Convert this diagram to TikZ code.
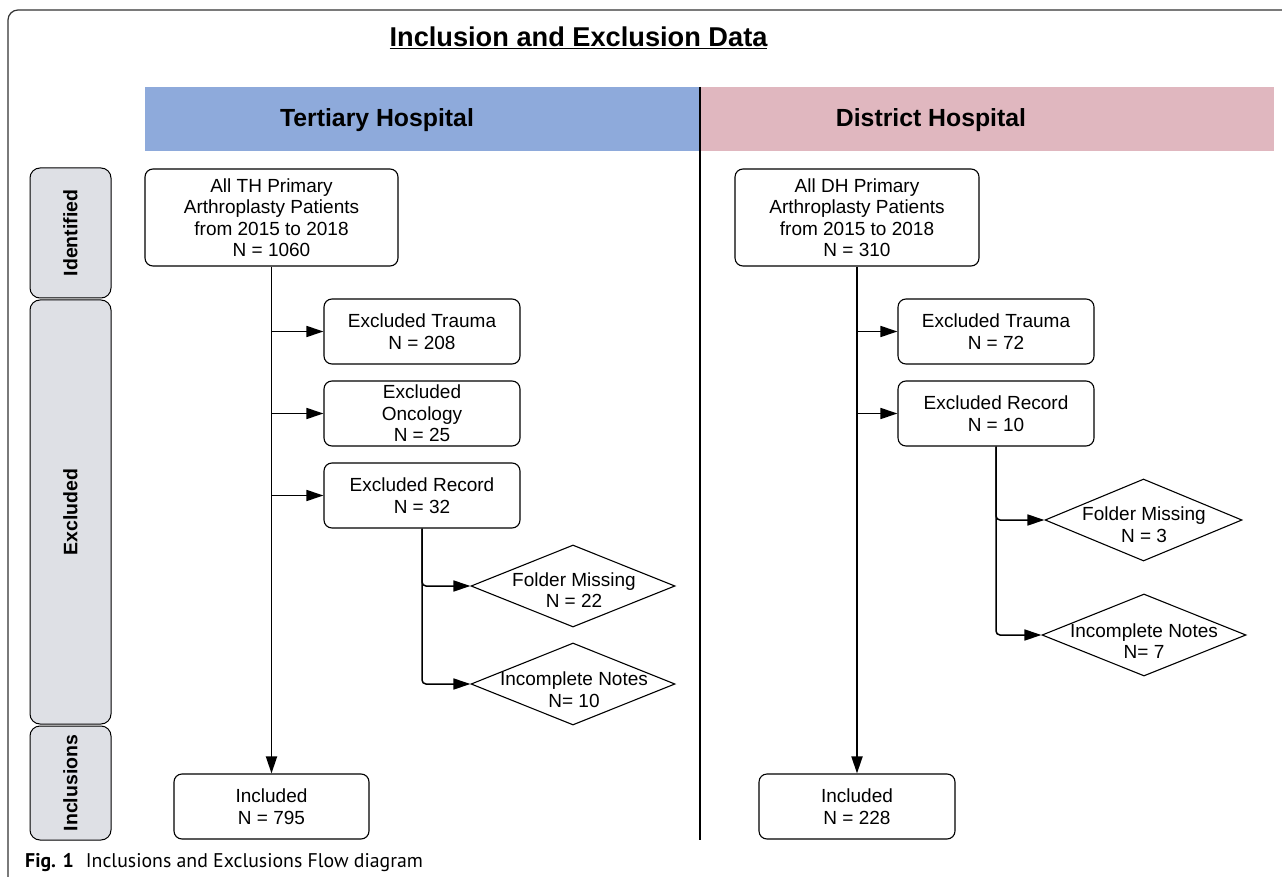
\documentclass[tikz,border=0pt]{standalone}
\usepackage{fontspec}
\setmainfont{Liberation Sans}
\newfontfamily\capfont{PT Sans}
\usetikzlibrary{shapes.geometric,arrows.meta}
\definecolor{thblue}{HTML}{8EAADB}
\definecolor{dhpink}{HTML}{E0B7BF}
\definecolor{sidegray}{HTML}{DEE0E5}
\definecolor{framegray}{HTML}{333333}
\begin{document}
\begin{tikzpicture}[x=1pt,y=-1pt,
  box/.style={draw, rounded corners=8pt, line width=1.1pt, align=center,
    font=\fontsize{19}{21.5}\selectfont, inner sep=0pt},
  dia/.style={draw, diamond, line width=1.1pt, inner sep=0pt, aspect=2.5},
  dtext/.style={align=center, font=\fontsize{19}{21.5}\selectfont, inner sep=0pt},
  lab/.style={draw, fill=sidegray, rounded corners=10pt, line width=1pt, rotate=90,
    minimum height=81pt, inner sep=0pt, font=\bfseries\fontsize{19.5}{22}\selectfont},
  head/.style={font=\bfseries\fontsize{24.8}{28}\selectfont, inner sep=0pt},
  arr/.style={-{Triangle[length=17pt,width=11pt]}, line width=1.5pt},
  trunk/.style={arr, line width=1.9pt}
]
\useasboundingbox (0,0) rectangle (1282,877);
% frame
\draw[framegray, line width=1.2pt, rounded corners=10pt] (8,877) -- (8,10) -- (1282,10);
% title
\node[inner sep=0pt] (title) at (578.5,38) {\bfseries\fontsize{27.2}{31}\selectfont\underline{Inclusion and Exclusion Data}};
% header bars
\fill[thblue] (145,87) rectangle (699,151);
\fill[dhpink] (701,87) rectangle (1274,151);
\node[head] (thhead) at (377,120.5) {Tertiary Hospital};
\node[head] (dhhead) at (931,120.5) {District Hospital};
\draw[line width=1.5pt] (700,87) -- (700,840);
% side labels
\node[lab, minimum width=130pt] (sid) at (70.5,233) {Identified};
\node[lab, minimum width=424pt] (sex) at (70.5,512) {Excluded};
\node[lab, minimum width=114pt] (sin) at (70.5,783) {Inclusions};
% TH nodes
\node[box, minimum width=253pt, minimum height=97pt] (thtop) at (271.5,217.5)
  {All TH Primary\\Arthroplasty Patients\\from 2015 to 2018\\N = 1060};
\node[box, minimum width=196pt, minimum height=65pt] (thtr) at (422,331.5) {Excluded Trauma\\N = 208};
\node[box, minimum width=196pt, minimum height=65pt] (thon) at (422,413.5) {Excluded\\Oncology\\N = 25};
\node[box, minimum width=196pt, minimum height=65pt] (threc) at (422,495.5) {Excluded Record\\N = 32};
\node[dia, minimum width=204pt, minimum height=82pt] (thfm) at (573,586) {};
\node[dtext] (thfmt) at (574,590) {Folder Missing\\N = 22};
\node[dia, minimum width=204pt, minimum height=82pt] (thin) at (573,684) {};
\node[dtext] (thint) at (574,689.5) {Incomplete Notes\\N= 10};
\node[box, minimum width=195pt, minimum height=65pt] (thinc) at (271.5,806.5) {Included\\N = 795};
% DH nodes
\node[box, minimum width=244pt, minimum height=97pt] (dhtop) at (857,217.5)
  {All DH Primary\\Arthroplasty Patients\\from 2015 to 2018\\N = 310};
\node[box, minimum width=196pt, minimum height=65pt] (dhtr) at (996,331.5) {Excluded Trauma\\N = 72};
\node[box, minimum width=196pt, minimum height=65pt] (dhrec) at (996,413.5) {Excluded Record\\N = 10};
\node[dia, minimum width=197pt, minimum height=82pt] (dhfm) at (1143.5,520) {};
\node[dtext] (dhfmt) at (1144,524.5) {Folder Missing\\N = 3};
\node[dia, minimum width=204pt, minimum height=82pt] (dhin) at (1144,635) {};
\node[dtext] (dhint) at (1144,641) {Incomplete Notes\\N= 7};
\node[box, minimum width=196pt, minimum height=65pt] (dhinc) at (857,806.5) {Included\\N = 228};
% TH connectors
\draw[trunk] (thtop.south) -- (thtop.south |- thinc.north);
\draw[arr] (thtop.south |- thtr.west) -- (thtr.west);
\draw[arr] (thtop.south |- thon.west) -- (thon.west);
\draw[arr] (thtop.south |- threc.west) -- (threc.west);
\draw[arr, rounded corners=4pt] (threc.south) |- (thfm.west);
\draw[arr, rounded corners=4pt] (threc.south) |- (thin.west);
% DH connectors
\draw[trunk] (dhtop.south) -- (dhtop.south |- dhinc.north);
\draw[arr] (dhtop.south |- dhtr.west) -- (dhtr.west);
\draw[arr] (dhtop.south |- dhrec.west) -- (dhrec.west);
\draw[arr, rounded corners=4pt] (dhrec.south) |- (dhfm.west);
\draw[arr, rounded corners=4pt] (dhrec.south) |- (dhin.west);
% caption
\node[anchor=base west, inner sep=0pt] (cap) at (25,867)
  {\capfont\fontsize{19.8}{22}\selectfont\textbf{Fig. 1}\hspace{12pt}Inclusions and Exclusions Flow diagram};
\end{tikzpicture}
\end{document}
